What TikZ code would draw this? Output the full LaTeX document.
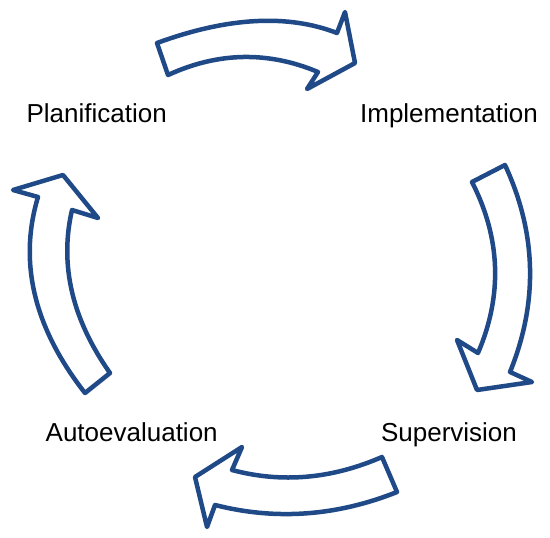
\documentclass[tikz,border=0pt]{standalone}
\usepackage{fontspec}
\setmainfont{Liberation Sans}
\usetikzlibrary{shadows}
\definecolor{arrowblue}{RGB}{31,74,135}
\begin{document}
\begin{tikzpicture}[x=1pt,y=-1pt,
  blockarrow/.style={draw=arrowblue,fill=white,line width=4.5pt,line join=round,
    drop shadow={opacity=0.18,shadow xshift=2pt,shadow yshift=-2pt}},
  label/.style={font=\fontsize{26}{31}\selectfont,anchor=base,inner sep=0pt}]
\useasboundingbox (0,0) rectangle (550,538);
% top arrow
\path[blockarrow] (157,43) .. controls (228,17) and (288,14) .. (337,33)
  -- (345,12) -- (355,63) -- (307,89) -- (318,72)
  .. controls (268,51) and (218,52) .. (168,75) -- cycle;
% right arrow
\path[blockarrow] (505,165) .. controls (536.7,233.3) and (538.3,302.3) .. (510,372)
  -- (532,382) -- (477,390) -- (457,340) -- (478,353)
  .. controls (502.7,295.3) and (500.7,238.3) .. (472,182) -- cycle;
% bottom arrow
\path[blockarrow] (382,457) .. controls (331.7,478.9) and (281.7,483.3) .. (232,470)
  -- (242,447) -- (195,477) -- (207,527) -- (215,505)
  .. controls (275.8,520.5) and (336.4,516.1) .. (397,492) -- cycle;
% left arrow
\path[blockarrow] (85,393) .. controls (33.9,327.8) and (18.3,262.2) .. (38,197)
  -- (13,190) -- (63,175) -- (98,218) -- (72,210)
  .. controls (59.3,264.9) and (72.1,319.3) .. (110,373) -- cycle;
% labels
\node[label] (plan) at (96.7,122) {Planification};
\node[label] (impl) at (449,122) {Implementation};
\node[label] (auto) at (131.7,441.7) {Autoevaluation};
\node[label] (sup) at (449,441.7) {Supervision};
\end{tikzpicture}
\end{document}
